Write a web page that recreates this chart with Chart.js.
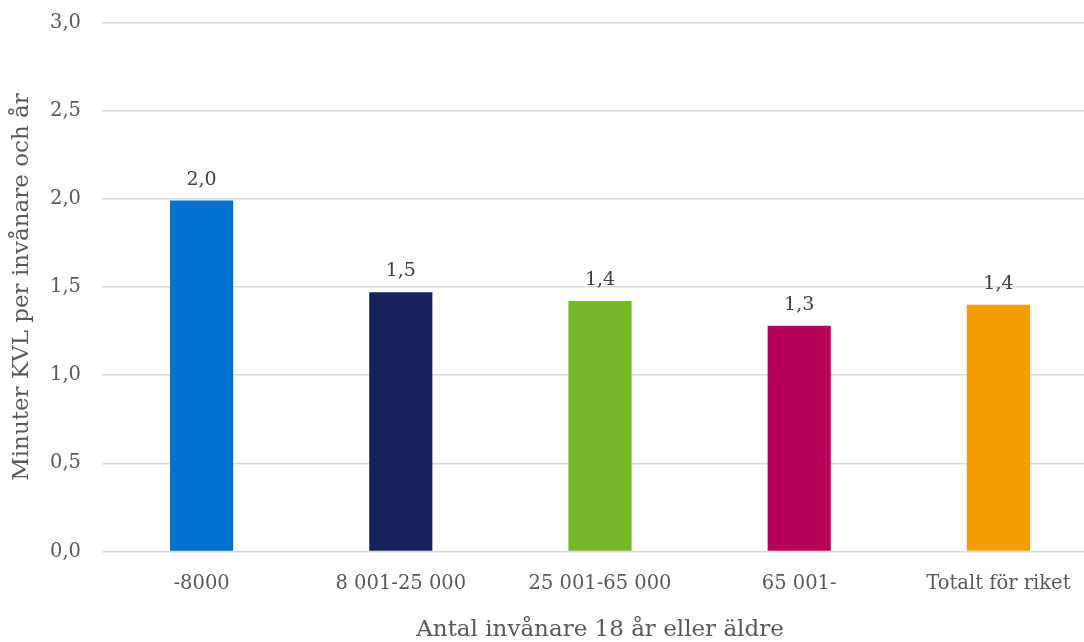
<!DOCTYPE html>
<html>
<head>
<meta charset="utf-8">
<script src="https://cdn.jsdelivr.net/npm/chart.js@4/dist/chart.umd.min.js"></script>
<style>
  body { margin: 0; background: #fff; overflow: hidden; }
  canvas { display: block; }
</style>
</head>
<body>
<canvas id="kvlBar" width="1098" height="642"></canvas>
<script>
const groups = ['-8000', '8 001-25 000', '25 001-65 000', '65 001-', 'Totalt för riket'];
const minutes = [1.99, 1.47, 1.42, 1.28, 1.40];
const barColors = ['#0071CE', '#17215B', '#77B82A', '#B5015A', '#F59C00'];

const serif = '"DejaVu Serif", Georgia, serif';
const fmt = v => v.toFixed(1).replace('.', ',');

// values printed above each bar
const valueLabels = {
  id: 'valueLabels',
  afterDatasetsDraw(chart) {
    const ctx = chart.ctx;
    const meta = chart.getDatasetMeta(0);
    ctx.save();
    ctx.font = '19px ' + serif;
    ctx.fillStyle = '#404040';
    ctx.textAlign = 'center';
    ctx.textBaseline = 'middle';
    meta.data.forEach((bar, i) => {
      ctx.fillText(fmt(chart.data.datasets[0].data[i]), bar.x, bar.y - 21);
    });
    ctx.restore();
  }
};

const kvlChart = new Chart(document.getElementById('kvlBar').getContext('2d'), {
  type: 'bar',
  data: {
    labels: groups,
    datasets: [{
      data: minutes,
      backgroundColor: barColors,
      barPercentage: 0.317,
      categoryPercentage: 1
    }]
  },
  options: {
    responsive: false,
    animation: false,
    layout: { padding: { top: 22.5, right: 0, left: 0, bottom: 0 } },
    plugins: {
      legend: { display: false },
      tooltip: { enabled: false }
    },
    scales: {
      x: {
        grid: { display: false },
        border: { display: false },
        ticks: { color: '#595959', font: { family: serif, size: 19.5 }, padding: 13 },
        title: {
          display: true,
          text: 'Antal invånare 18 år eller äldre',
          color: '#595959',
          font: { family: serif, size: 23 },
          padding: { top: 0, bottom: -2 }
        },
        afterFit(scale) { scale.height = 90.5; }
      },
      y: {
        min: 0,
        max: 3,
        ticks: {
          stepSize: 0.5,
          color: '#595959',
          font: { family: serif, size: 19.5 },
          padding: 21,
          callback: v => fmt(v)
        },
        grid: { color: '#d9d9d9', lineWidth: 1.5, drawTicks: false },
        border: { display: false },
        title: {
          display: true,
          text: 'Minuter KVL per invånare och år',
          color: '#595959',
          font: { family: serif, size: 23 },
          padding: { top: 8 }
        },
        afterFit(scale) {
          scale.width = 102;
          scale.paddingTop = 0;
          scale.paddingBottom = 0;
        }
      }
    }
  },
  plugins: [valueLabels]
});
</script>
</body>
</html>
